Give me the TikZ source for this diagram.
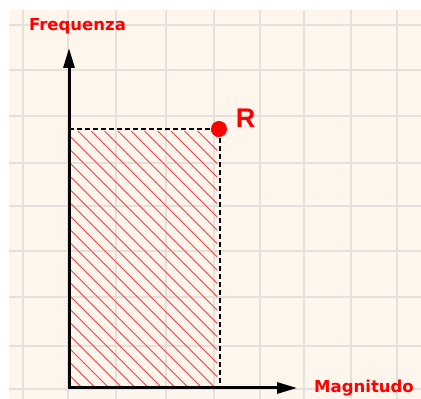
\documentclass[tikz,border=0pt]{standalone}
\usepackage{fontspec}
\setmainfont{DejaVu Sans}
\newfontfamily\arialfont{Liberation Sans}
\usetikzlibrary{arrows.meta,calc,positioning}

\definecolor{paper}{RGB}{254,246,236}
\definecolor{gridgray}{RGB}{228,225,221}
\definecolor{hatchred}{RGB}{255,60,60}

\begin{document}
\begin{tikzpicture}[x=1pt,y=1pt,
    axis/.style={line width=3pt,-{Triangle[length=20pt,width=11pt]}},
    guide/.style={line width=1.4pt,dash pattern=on 5pt off 3pt},
    label/.style={text=red,font=\bfseries\fontsize{16.5}{16.5}\selectfont,inner sep=0pt}]
    \useasboundingbox (0,0) rectangle (421,399);
    \fill[paper] (9,0) rectangle (421,389);
    % grid
    \foreach \gx in {23,68,116,166,214,260,304,351,397}
        \draw[gridgray,line width=1.5pt] (\gx,0) -- (\gx,389);
    \foreach \gy in {10,53,102,148,193,236,283,329,374}
        \draw[gridgray,line width=1.5pt] (9,\gy) -- (421,\gy);
    \coordinate (O) at (69,11);
    \coordinate (ytip) at (69,351);
    \coordinate (xtip) at (297,11);
    \coordinate (ytop) at (69,270);
    \coordinate (xR) at (220,11);
    % hatching
    \begin{scope}
        \clip (70,13) rectangle (217,268);
        \foreach \k in {80,93.3,...,500}
            \draw[hatchred,line width=0.9pt] (\k-268,268) -- (\k-12,12);
    \end{scope}
    \draw[guide] (ytop) -- (220,270) -- (xR);
    \node[circle,fill=red,inner sep=0pt,minimum size=16pt] (R) at (219,270) {};
    \draw[axis] (O) -- (ytip);
    \draw[axis] ([xshift=-1.5pt]O) -- (xtip);
    \node[label] (freq) at (77.5,372.5) {Frequenza};
    \node[label] (magn) at (364,10.5) {Magnitudo};
    \node[text=red,font=\arialfont\bfseries\fontsize{27}{27}\selectfont,inner sep=0pt]
        (rlab) at (245.5,281) {R};
\end{tikzpicture}
\end{document}
